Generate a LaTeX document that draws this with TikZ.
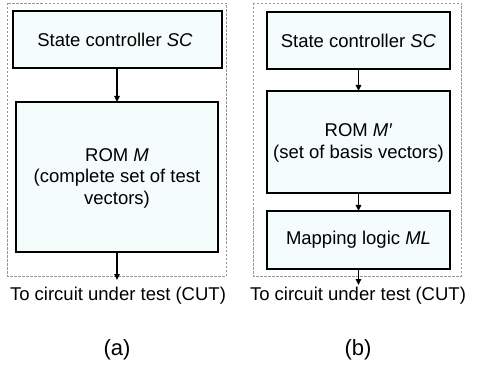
\documentclass[tikz,border=0pt]{standalone}
\usepackage{fontspec}
\setmainfont{Liberation Sans}
\usetikzlibrary{arrows.meta}
\definecolor{boxfill}{RGB}{244,252,252}
\definecolor{framegray}{RGB}{150,150,150}
\begin{document}
\begin{tikzpicture}[x=1pt,y=-1pt,
  blk/.style={draw=black,line width=1.2pt,fill=boxfill},
  frm/.style={draw=framegray,line width=0.6pt,dash pattern=on 2.5pt off 1.5pt},
  lbl/.style={font=\fontsize{18.5}{21.5}\selectfont,align=center,inner sep=0pt},
  captxt/.style={font=\fontsize{22}{26}\selectfont,inner sep=0pt},
  arr/.style={-{Triangle[length=6pt,width=5.5pt]},line width=1.3pt}]
\useasboundingbox (0,0) rectangle (479,374);
% (a)
\draw[frm] (7,3) rectangle (226,276);
\draw[blk] (13,11) rectangle (222,68);
\node[lbl] (scA) at (115,40) {State controller \textit{SC}};
\draw[blk] (16,102) rectangle (218,252);
\node[lbl] (romA) at (117,178) {ROM \textit{M}\\(complete set of test\\vectors)};
\coordinate (a1) at (117,68);
\coordinate (a2) at (117,102);
\coordinate (a3) at (117,252);
\coordinate (a4) at (117,280);
\draw[arr] (a1) -- (a2);
\draw[arr] (a3) -- (a4);
\node[lbl] (cutA) at (118,296) {To circuit under test (CUT)};
\node[captxt] (capA) at (117,350) {(a)};
% (b)
\draw[frm] (253,3) rectangle (461,276);
\draw[blk] (267,12) rectangle (450,69);
\node[lbl] (scB) at (358.5,41) {State controller \textit{SC}};
\draw[blk] (267,91) rectangle (450,193);
\node[lbl] (romB) at (358.5,143) {ROM \textit{M′}\\(set of basis vectors)};
\draw[blk] (267,211) rectangle (450,269);
\node[lbl] (mlB) at (358.5,240) {Mapping logic \textit{ML}};
\coordinate (b1) at (358.5,69);
\coordinate (b2) at (358.5,91);
\coordinate (b3) at (358.5,193);
\coordinate (b4) at (358.5,211);
\coordinate (b5) at (358.5,269);
\coordinate (b6) at (358.5,285);
\draw[arr] (b1) -- (b2);
\draw[arr] (b3) -- (b4);
\draw[arr] (b5) -- (b6);
\node[lbl] (cutB) at (358,296) {To circuit under test (CUT)};
\node[captxt] (capB) at (358,350) {(b)};
\end{tikzpicture}
\end{document}
